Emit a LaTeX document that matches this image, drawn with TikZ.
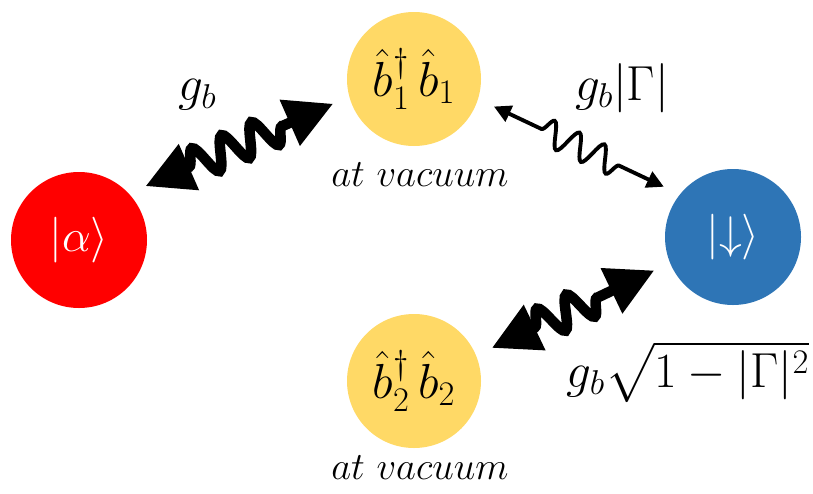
\documentclass[tikz,border=0pt]{standalone}
\usepackage{fix-cm}
\usepackage{amssymb}
\usepackage{tikz}
\usetikzlibrary{arrows.meta, decorations.pathmorphing}
\definecolor{kred}{HTML}{FF0000}
\definecolor{kblue}{HTML}{2E75B6}
\definecolor{modey}{HTML}{FFD966}
\tikzset{
  ket/.style={circle, fill=#1, minimum size=2.72cm, inner sep=0pt, outer sep=3.5mm,
              text=white, font=\fontsize{26}{30}\selectfont},
  ket/.default=kred,
  mode/.style={circle, fill=modey, minimum size=2.68cm, inner sep=0pt, outer sep=3.5mm,
               font=\fontsize{28}{32}\selectfont},
  cpl/.style={font=\fontsize{28}{32}\selectfont},
  vac/.style={font=\fontsize{22}{26}\selectfont},
  wavy/.style={{Triangle[length=9.5mm, width=9.5mm]}-{Triangle[length=9.5mm, width=9.5mm]},
               line width=6pt, decorate,
               decoration={snake, amplitude=3.2mm, segment length=6.5mm,
                           pre length=9.5mm, post length=9.5mm}},
  wavyt/.style={{Triangle[length=3.4mm, width=3.4mm]}-{Triangle[length=3.4mm, width=3.4mm]},
                line width=2.2pt, decorate,
                decoration={snake, amplitude=2.6mm, segment length=5.5mm,
                            pre length=10.5mm, post length=9.5mm}},
}
\begin{document}
\begin{tikzpicture}
    \useasboundingbox (0,0) rectangle (16.26,9.86);
    % states and modes
    \node[ket=kred]  (alpha) at (1.58, 5.06)  {$|\alpha\rangle$};
    \node[ket=kblue] (down)  at (14.66, 5.12) {$|{\downarrow}\rangle$};
    \node[mode]      (b1)    at (8.28, 8.28)  {$\hat{b}{}_1^{\dagger}\,\hat{b}{}_1$};
    \node[mode]      (b2)    at (8.28, 2.24)  {$\hat{b}{}_2^{\dagger}\,\hat{b}{}_2$};
    % labels
    \node[cpl] (gb)   at (3.95, 7.96)  {$g_b$};
    \node[cpl] (gbG)  at (12.44, 8.10) {$g_b|\Gamma|$};
    \node[cpl] (gbS)  at (13.76, 2.42) {$g_b\sqrt{1-|\Gamma|^2}$};
    \node[vac] (vac1) at (8.40, 6.36)  {$at\ vacuum$};
    \node[vac] (vac2) at (8.40, 0.50)  {$at\ vacuum$};

    \draw[wavy]  (alpha.39) -- (b1.197);
    \draw[wavyt] (b1.341) -- (down.144);
    \draw[wavy]  (b2.23) -- (down.203);
\end{tikzpicture}
\end{document}
